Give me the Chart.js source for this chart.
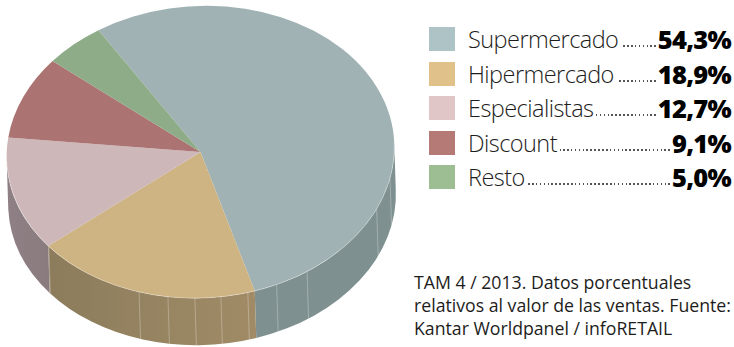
<!DOCTYPE html>
<html>
<head>
<meta charset="utf-8">
<script src="https://cdn.jsdelivr.net/npm/chart.js@4"></script>
<style>
	html, body { margin: 0; padding: 0; background: #fff; }
	#page { position: relative; width: 734px; height: 347px; overflow: hidden; font-family: "Open Sans", sans-serif; color: #1d1d1b; }
	#pie { position: absolute; left: 0; top: 0; }
	.row { position: absolute; left: 429px; width: 302px; height: 24px; display: flex; align-items: center; }
	.swatch { width: 26px; height: 24px; margin-right: 13px; flex: none; }
	.name { font-size: 23.5px; font-weight: 300; letter-spacing: -0.55px; flex: none; }
	.dots { flex: 1; height: 2px; margin: 14px 2px 0 3px; background: repeating-linear-gradient(to left, #555 0, #555 1.6px, transparent 1.6px, transparent 3.9px); }
	.value { font-size: 25.5px; font-weight: 800; letter-spacing: -0.75px; flex: none; color: #000; }
	#note { position: absolute; left: 414px; top: 271px; font-size: 17.7px; line-height: 23px; white-space: nowrap; }
</style>
</head>
<body>
<div id="page">
	<canvas id="pie" width="402" height="347"></canvas>
	<div id="legend"></div>
	<div id="note">TAM 4 / 2013. Datos porcentuales<br>relativos al valor de las ventas. Fuente:<br>Kantar Worldpanel / infoRETAIL</div>
</div>
<script>
const categories = ['Supermercado', 'Hipermercado', 'Especialistas', 'Discount', 'Resto'];
const shares = [54.3, 18.9, 12.7, 9.1, 5.0];

const topColors = ['#a0b2b4', '#ceb383', '#cdb7b9', '#ab7371', '#8eac88'];
const legendColors = ['#aec3c6', '#e0c18a', '#e1c6c8', '#b57976', '#9dbd93'];
const sideColors = [['#7f9090', '#7f9090'], ['#8c7c5c', '#a08b66'], ['#8f8085', '#8a7b7f'], ['#7a5553', '#7a5553'], ['#6a8266', '#6a8266']];

// where the light seams of the rim fall, in degrees clockwise from 12 o'clock
const seamAngles = [104.5, 117, 149, 159.2, 168.2, 176.3, 184, 192, 200.8, 233.8];

const center = { x: 200.5, y: 152 };
const radiusX = 194;
const radiusY = 146;
const depth = 47;
const baseShift = 1.5;
const tilt = -3.1 * Math.PI / 180;

const legend = document.getElementById('legend');
categories.forEach((name, i) => {
	const top = 27 + i * 34.5;
	legend.innerHTML += `<div class="row" style="top:${top}px">
		<span class="swatch" style="background:${legendColors[i]}"></span>
		<span class="name">${name}</span>
		<span class="dots"></span>
		<span class="value">${shares[i].toFixed(1).replace('.', ',')}%</span>
	</div>`;
});

function rimPoint(a) {
	const ex = radiusX * Math.cos(a);
	const ey = radiusY * Math.sin(a);
	return {
		x: center.x + ex * Math.cos(tilt) - ey * Math.sin(tilt),
		y: center.y + ex * Math.sin(tilt) + ey * Math.cos(tilt)
	};
}

const tiltPlugin = {
	id: 'tilt',
	beforeDatasetsDraw(chart) {
		const ctx = chart.ctx;
		const arcs = chart.getDatasetMeta(0).data;

		// rim first, so the top face sits over it
		arcs.forEach((arc, i) => {
			const from = Math.max(arc.startAngle, 0);
			const to = Math.min(arc.endAngle, Math.PI);
			if (from >= to) return;
			const fill = ctx.createLinearGradient(rimPoint(to).x, 0, rimPoint(from).x, 0);
			fill.addColorStop(0, sideColors[i][0]);
			fill.addColorStop(1, sideColors[i][1]);
			ctx.beginPath();
			ctx.ellipse(center.x, center.y, radiusX, radiusY, tilt, from, to);
			ctx.ellipse(center.x + baseShift, center.y + depth, radiusX, radiusY, tilt, to, from, true);
			ctx.closePath();
			ctx.fillStyle = fill;
			ctx.fill();
		});

		ctx.strokeStyle = 'rgba(255,255,255,0.28)';
		ctx.lineWidth = 1;
		seamAngles.forEach(deg => {
			const p = rimPoint((deg - 90) * Math.PI / 180);
			ctx.beginPath();
			ctx.moveTo(p.x, p.y);
			ctx.lineTo(p.x + baseShift, p.y + depth);
			ctx.stroke();
		});

		const r = arcs[0].outerRadius;
		ctx.save();
		ctx.translate(center.x, center.y);
		ctx.rotate(tilt);
		ctx.scale(radiusX / r, radiusY / r);
		ctx.translate(-arcs[0].x, -arcs[0].y);
	},
	afterDatasetsDraw(chart) {
		const ctx = chart.ctx;
		ctx.restore();
		ctx.beginPath();
		ctx.ellipse(center.x, center.y, radiusX, radiusY, tilt, 0, Math.PI);
		ctx.strokeStyle = 'rgba(255,255,255,0.45)';
		ctx.lineWidth = 0.7;
		ctx.stroke();
	}
};

new Chart(document.getElementById('pie'), {
	type: 'pie',
	data: {
		labels: categories,
		datasets: [{
			data: shares,
			backgroundColor: topColors,
			borderWidth: 0,
			clip: false
		}]
	},
	options: {
		responsive: false,
		animation: false,
		rotation: -29.4,
		plugins: { legend: { display: false }, tooltip: { enabled: false } }
	},
	plugins: [tiltPlugin]
});
</script>
</body>
</html>
